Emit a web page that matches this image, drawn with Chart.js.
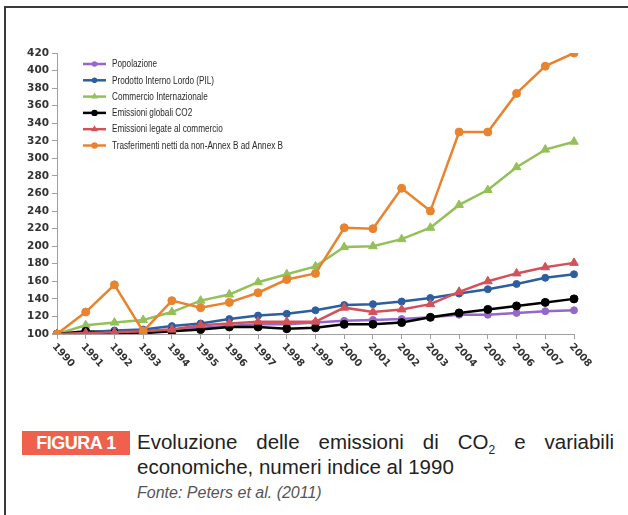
<!DOCTYPE html>
<html>
<head>
<meta charset="utf-8">
<script src="https://cdn.jsdelivr.net/npm/chart.js@4"></script>
<style>
    html, body { margin: 0; padding: 0; background: #fff; }
    body { width: 628px; height: 515px; position: relative; overflow: hidden; font-family: 'Liberation Sans', Arial, sans-serif; }
    .frame { position: absolute; left: 4px; top: 6px; width: 660px; height: 540px; border-top: 2px solid #3a3a3a; border-left: 2px solid #3a3a3a; }
    #chart-wrap { position: absolute; left: 0; top: 0; width: 628px; height: 400px; }
    .badge { position: absolute; left: 22px; top: 431px; width: 108px; height: 24px; background: #ef614c; color: #fff; font-weight: bold; font-size: 18px; line-height: 24px; text-align: center; letter-spacing: -0.5px; }
    .caption { position: absolute; left: 137px; top: 429px; width: 477px; color: #222; font-size: 20.5px; line-height: 25px; }
    .caption .l1 { text-align: justify; text-align-last: justify; }
    .caption sub { font-size: 12px; vertical-align: -5px; line-height: 0; }
    .fonte { position: absolute; left: 137px; top: 484px; color: #555; font-size: 16px; font-style: italic; }
</style>
</head>
<body>
<div class="frame"></div>
<div id="chart-wrap"><canvas id="co2-chart"></canvas></div>
<div class="badge">FIGURA 1</div>
<div class="caption">
    <div class="l1">Evoluzione delle emissioni di CO<sub>2</sub> e variabili</div>
    <div>economiche, numeri indice al 1990</div>
</div>
<div class="fonte">Fonte: Peters et al. (2011)</div>

<script>
// Data (index numbers, 1990 = 100)
const years = ['1990', '1991', '1992', '1993', '1994', '1995', '1996', '1997', '1998', '1999',
    '2000', '2001', '2002', '2003', '2004', '2005', '2006', '2007', '2008'];

const popolazione = [100, 101, 102, 103, 105, 107, 109, 111, 111, 113, 115, 116, 117, 119, 122, 122, 124, 126, 127];
const pil = [100, 102, 104, 105, 109, 112, 117, 121, 123, 127, 133, 134, 137, 141, 146, 151, 157, 164, 168];
const commercio = [100, 110, 113, 116, 125, 138, 145, 159, 168, 177, 199, 200, 208, 221, 247, 264, 290, 310, 319];
const emissioniGlobali = [100, 103, 101, 101, 103, 105, 108, 108, 106, 107, 111, 111, 113, 119, 124, 128, 132, 136, 140];
const emissioniCommercio = [100, 101, 102, 103, 105, 110, 112, 114, 114, 114, 130, 125, 128, 134, 148, 160, 169, 176, 181];
const trasferimenti = [100, 125, 156, 103, 138, 130, 136, 147, 162, 169, 221, 220, 266, 240, 330, 330, 374, 405, 420];

const seriesLabels = [
    'Popolazione',
    'Prodotto Interno Lordo (PIL)',
    'Commercio Internazionale',
    'Emissioni globali CO2',
    'Emissioni legate al commercio',
    'Trasferimenti netti da non-Annex B ad Annex B'
];

const yTicks = [100, 120, 140, 160, 180, 200, 220, 240, 260, 280, 300, 320, 340, 360, 380, 400, 420];

const SERIES_COLORS = ['#9467c8', '#2d5f9e', '#94c05a', '#000000', '#d3525a', '#e8832f'];
const SERIES_SHAPES = ['circle', 'circle', 'triangle', 'circle', 'triangle', 'circle'];
const SERIES_RADIUS = [3.5, 3.5, 5, 4, 5, 4];

const allSeries = [popolazione, pil, commercio, emissioniGlobali, emissioniCommercio, trasferimenti];

const datasets = allSeries.map((data, i) => ({
    label: seriesLabels[i],
    data,
    borderColor: SERIES_COLORS[i],
    backgroundColor: SERIES_COLORS[i],
    borderWidth: 2.5,
    pointStyle: SERIES_SHAPES[i],
    pointRadius: SERIES_RADIUS[i],
    pointBorderWidth: 1,
    tension: 0,
    order: allSeries.length - i   // last series on top, like the original
}));

// Rotated x labels (clockwise, reading downwards)
const xLabelPlugin = {
    id: 'xLabels',
    afterDraw(chart) {
        const scale = chart.scales.x;
        const ctx = chart.ctx;
        ctx.save();
        ctx.font = 'bold 10px "DejaVu Sans"';
        ctx.fillStyle = '#333';
        ctx.textAlign = 'left';
        ctx.textBaseline = 'middle';
        years.forEach((label, i) => {
            const x = scale.getPixelForTick(i);
            ctx.save();
            ctx.translate(x - 3, scale.top + 11);
            ctx.rotate(48 * Math.PI / 180);
            ctx.fillText(label, 0, 0);
            ctx.restore();
        });
        ctx.restore();
    }
};

// Legend drawn inside the plot, top left
const insideLegendPlugin = {
    id: 'insideLegend',
    afterDraw(chart) {
        const ctx = chart.ctx;
        const x0 = 83, x1 = 106, top = 64, step = 16.3;
        ctx.save();
        ctx.textBaseline = 'middle';
        ctx.textAlign = 'left';
        chart.data.datasets.forEach((ds, i) => {
            const y = top + i * step;
            ctx.strokeStyle = ds.borderColor;
            ctx.lineWidth = 2.5;
            ctx.beginPath();
            ctx.moveTo(x0, y);
            ctx.lineTo(x1, y);
            ctx.stroke();
            ctx.fillStyle = ds.backgroundColor;
            Chart.helpers.drawPoint(ctx, { pointStyle: ds.pointStyle, radius: ds.pointRadius * 0.8, borderWidth: 0 }, (x0 + x1) / 2, y);
            // condensed look: squeeze the text horizontally
            ctx.save();
            ctx.translate(112, y + 0.5);
            ctx.scale(0.82, 1);
            ctx.font = '10px "Liberation Sans"';
            ctx.fillStyle = '#2a2a2a';
            ctx.fillText(ds.label, 0, 0);
            ctx.restore();
        });
        ctx.restore();
    }
};

new Chart(document.getElementById('co2-chart'), {
    type: 'line',
    data: { labels: years, datasets },
    plugins: [xLabelPlugin, insideLegendPlugin],
    options: {
        responsive: true,
        maintainAspectRatio: false,
        animation: false,
        layout: { padding: { left: 0, top: 53, right: 54, bottom: 0 } },
        plugins: {
            legend: { display: false },
            tooltip: { enabled: false }
        },
        scales: {
            x: {
                offset: false,
                afterFit: (scale) => { scale.height = 66; },
                grid: { drawOnChartArea: false, drawTicks: true, tickLength: 5, color: '#a0a0a0' },
                border: { color: '#a0a0a0', width: 1 },
                ticks: { display: false, autoSkip: false }
            },
            y: {
                min: 100,
                max: 420,
                afterFit: (scale) => { scale.width = 57; },
                afterBuildTicks: (scale) => { scale.ticks = yTicks.map(v => ({ value: v })); },
                grid: { drawOnChartArea: false, drawTicks: true, tickLength: 5, color: '#a0a0a0' },
                border: { color: '#a0a0a0', width: 1 },
                ticks: {
                    padding: 3,
                    color: '#333',
                    font: { family: 'DejaVu Sans', weight: 'bold', size: 10.5 }
                }
            }
        }
    }
});
</script>
</body>
</html>
